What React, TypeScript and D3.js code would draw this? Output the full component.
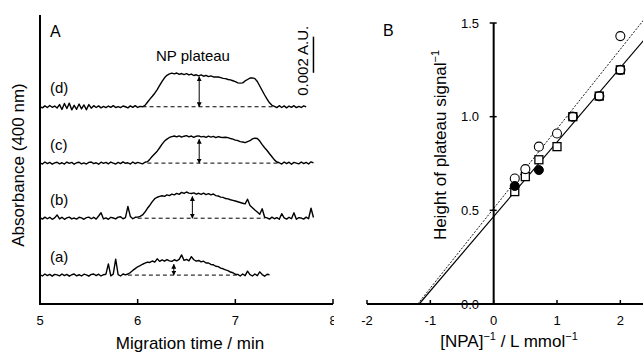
import React from "react";
import * as d3 from "d3";

const W = 643;
const H = 352;
const FONT = "'Liberation Sans', Arial, Helvetica, sans-serif";

// ---- Panel A: electropherograms (absorbance above each baseline, mAU) ----
const timeStart = 5.0;
const timeStep = 0.025;
const timeTicks = [5, 6, 7, 8];
const traceLabels = ["(a)", "(b)", "(c)", "(d)"];
const traceOffsets = [1.6, 4.75, 7.8, 10.92];

const traceA = [
  0.02, -0.05, 0.06, -0.03, 0.04, -0.06, 0.04, 0.01, -0.04, 0.06, -0.03, 0.04,
  -0.06, 0.02, 0.06, -0.04, 0.02, -0.05, 0.05, 0.01, -0.06, 0.04, 0.06, -0.03,
  0.05, -0.05, 0.02, 0.05, 0.62, -0.04, 0.05, 0.88, 0.02, -0.05, 0.06, 0.01,
  0.06, 0.14, 0.26, 0.36, 0.46, 0.52, 0.6, 0.66, 0.72, 0.7, 0.78, 0.72, 0.9,
  0.76, 0.84, 0.77, 0.86, 0.79, 0.76, 0.85, 0.79, 0.87, 1.12, 0.81, 0.87, 0.79,
  1.02, 0.85, 0.77, 0.81, 0.73, 0.77, 0.67, 0.67, 0.59, 0.57, 0.49, 0.47, 0.39,
  0.35, 0.29, 0.25, 0.17, 0.13, 0.05, 0.04, -0.05, 0.06, -0.03, 0.22, 0.03,
  -0.05, 0.06, -0.03, 0.18, 0.03, -0.06, 0.05, 0.02,
];

const traceB = [
  0.03, -0.05, 0.06, -0.03, 0.05, -0.06, 0.02, 0.18, -0.04, 0.05, -0.06, 0.02,
  0.06, -0.04, 0.01, -0.05, 0.05, 0.02, -0.06, 0.03, 0.06, -0.03, 0.05, -0.05,
  0.12, 0.3, -0.04, 0.02, -0.06, 0.05, 0.01, -0.04, 0.06, 0.08, -0.03, 0.03,
  0.65, 0.1, -0.03, 0.05, 0.06, 0.1, 0.18, 0.34, 0.55, 0.72, 0.92, 1.08, 1.16,
  1.21, 1.24, 1.21, 1.29, 1.25, 1.33, 1.29, 1.37, 1.32, 1.43, 1.37, 1.45, 1.39,
  1.37, 1.4, 1.33, 1.38, 1.32, 1.39, 1.31, 1.36, 1.29, 1.34, 1.25, 1.23, 1.17,
  1.15, 1.09, 1.07, 1.02, 0.99, 0.95, 0.91, 0.87, 0.83, 0.79, 1.05, 0.7, 0.58,
  0.45, 0.34, 0.22, 0.52, 0.05, 0.02, -0.05, 0.06, -0.03, 0.03, -0.06, 0.25,
  0.02, -0.05, 0.05, -0.03, 0.3, -0.06, 0.03, 0.01, -0.05, 0.06, -0.03, 0.55,
  0.04,
];

const traceC = [
  0.02, -0.05, 0.06, -0.03, 0.04, -0.06, 0.01, 0.05, -0.04, 0.02, -0.05, 0.06,
  -0.01, 0.04, -0.06, 0.02, 0.05, -0.04, 0.01, -0.05, 0.04, 0.06, -0.03, 0.02,
  -0.06, 0.05, -0.01, 0.04, -0.04, 0.06, 0.0, -0.05, 0.04, -0.03, 0.07, -0.01,
  0.02, -0.05, 0.06, -0.03, 0.04, 0.0, -0.04, 0.05, 0.08, 0.22, 0.38, 0.52,
  0.66, 0.85, 1.05, 1.22, 1.33, 1.42, 1.47, 1.5, 1.45, 1.51, 1.44, 1.49, 1.52,
  1.45, 1.5, 1.43, 1.49, 1.51, 1.45, 1.48, 1.42, 1.49, 1.44, 1.48, 1.41, 1.47,
  1.43, 1.42, 1.43, 1.41, 1.36, 1.33, 1.27, 1.25, 1.19, 1.17, 1.13, 1.19, 1.24,
  1.34, 1.38, 1.36, 1.22, 1.02, 0.85, 0.7, 0.52, 0.35, 0.18, 0.06, 0.02,
  -0.05, 0.06, -0.03, 0.05, -0.06, 0.04, 0.0, -0.04, 0.06, -0.03, 0.04, -0.05,
  0.07, 0.01,
];

const traceD = [
  0.0, -0.06, 0.05, -0.04, 0.07, -0.03, 0.04, -0.07, 0.12, -0.15, 0.18, -0.1,
  0.2, -0.17, 0.08, -0.14, 0.15, -0.12, 0.1, -0.16, 0.12, -0.08, 0.06, -0.04,
  0.05, -0.06, 0.02, -0.05, 0.04, -0.03, 0.06, -0.04, 0.01, -0.05, 0.04, 0.0,
  -0.06, 0.05, -0.03, 0.06, -0.04, 0.02, 0.0, 0.08, 0.25, 0.42, 0.58, 0.75,
  0.95, 1.18, 1.4, 1.6, 1.74, 1.82, 1.86, 1.82, 1.87, 1.79, 1.84, 1.78, 1.83,
  1.76, 1.81, 1.73, 1.77, 1.71, 1.76, 1.69, 1.74, 1.67, 1.71, 1.65, 1.65, 1.65,
  1.61, 1.57, 1.56, 1.51, 1.49, 1.44, 1.39, 1.32, 1.31, 1.32, 1.43, 1.51, 1.59,
  1.6, 1.56, 1.4, 1.15, 0.9, 0.65, 0.42, 0.22, 0.08, 0.02, -0.05, 0.06, -0.04,
  0.05, -0.06, 0.04, -0.03, 0.06, -0.05, 0.02, -0.04, 0.05, -0.01,
];

const traces = [traceA, traceB, traceC, traceD];
const plateauStart = [5.9, 6.0, 6.1, 6.05];
const plateauEnd = [7.02, 7.3, 7.45, 7.4];
const arrowTimes = [6.37, 6.56, 6.63, 6.63];
const arrowHeights = [0.6, 1.2, 1.32, 1.66];
const scaleBarTime = 7.8;
const scaleBarBottom = 12.8;
const scaleBarSize = 2; // 0.002 A.U. in mAU

// ---- Panel B: double reciprocal plot ----
const invTicksX = [-2, -1, 0, 1, 2];
const invTicksY = [0, 0.5, 1.0, 1.5];
const circleX = [0.333, 0.5, 0.714, 1.0, 2.0];
const circleY = [0.67, 0.72, 0.84, 0.91, 1.43];
const squareX = [0.333, 0.5, 0.714, 1.0, 1.25, 1.667, 2.0];
const squareY = [0.6, 0.68, 0.77, 0.84, 1.0, 1.11, 1.25];
const ringX = [1.25, 1.667, 2.0];
const ringY = [1.0, 1.11, 1.25];
const filledX = [0.333, 0.714];
const filledY = [0.63, 0.715];
const fitSlopes = [0.397, 0.425]; // solid, dotted
const fitIntercepts = [0.467, 0.51];

export default function App() {
  const xA = d3.scaleLinear().domain([5, 8]).range([40, 333]);
  const yA = d3.scaleLinear().domain([0, 16]).range([304, 15]);
  const xB = d3.scaleLinear().domain([-2, 2.5]).range([367, 652]);
  const yB = d3.scaleLinear().domain([0, 1.5]).range([304, 23]);

  const tracePath = (vals: number[], off: number) =>
    d3
      .line<number>()
      .x((_, i) => xA(timeStart + i * timeStep))
      .y((v) => yA(off + v))(vals) || "";

  const sup = (s: string) => (
    <tspan dy={-7} fontSize={11}>
      {s}
    </tspan>
  );

  return (
    <svg
      width={W}
      height={H}
      style={{ position: "absolute", left: 0, top: 0, background: "#fff" }}
      fontFamily={FONT}
    >
      <defs>
        <marker
          id="ah"
          viewBox="0 0 10 10"
          refX={9}
          refY={5}
          markerWidth={5}
          markerHeight={5}
          markerUnits="userSpaceOnUse"
          orient="auto-start-reverse"
        >
          <path d="M0,0 L10,5 L0,10 Z" fill="#000" />
        </marker>
      </defs>

      {/* ---------- Panel A ---------- */}
      <g>
        {traces.map((vals, k) => (
          <g key={k}>
            <line
              x1={xA(plateauStart[k])}
              x2={xA(plateauEnd[k])}
              y1={yA(traceOffsets[k])}
              y2={yA(traceOffsets[k])}
              stroke="#000"
              strokeWidth={1}
              strokeDasharray="4 3"
            />
            <path
              d={tracePath(vals, traceOffsets[k])}
              fill="none"
              stroke="#000"
              strokeWidth={1.4}
              strokeLinejoin="round"
            />
            <line
              x1={xA(arrowTimes[k])}
              x2={xA(arrowTimes[k])}
              y1={yA(traceOffsets[k])}
              y2={yA(traceOffsets[k] + arrowHeights[k])}
              stroke="#000"
              strokeWidth={1}
              markerStart="url(#ah)"
              markerEnd="url(#ah)"
            />
            <text
              x={50}
              y={yA(traceOffsets[k] + 1.05)}
              fontSize={15}
              dominantBaseline="central"
            >
              {traceLabels[k]}
            </text>
          </g>
        ))}

        {/* scale bar */}
        <line
          x1={xA(scaleBarTime)}
          x2={xA(scaleBarTime)}
          y1={yA(scaleBarBottom)}
          y2={yA(scaleBarBottom + scaleBarSize)}
          stroke="#000"
          strokeWidth={1.5}
        />
        <text
          transform={`translate(${xA(scaleBarTime) - 11},${yA(scaleBarBottom + scaleBarSize / 2) + 6}) rotate(-90)`}
          textAnchor="middle"
          dominantBaseline="central"
          fontSize={15}
        >
          0.002 A.U.
        </text>

        <text x={193} y={55} fontSize={15} textAnchor="middle" dominantBaseline="central">
          NP plateau
        </text>
        <text x={50} y={31} fontSize={16} dominantBaseline="central">
          A
        </text>

        {/* axes */}
        <line x1={xA(5)} x2={xA(8)} y1={yA(0)} y2={yA(0)} stroke="#000" strokeWidth={2} />
        <line x1={xA(5)} x2={xA(5)} y1={yA(0) + 1} y2={yA(16)} stroke="#000" strokeWidth={2} />
        {timeTicks.map((t) => (
          <g key={t}>
            <line x1={xA(t)} x2={xA(t)} y1={yA(0)} y2={yA(0) - 5} stroke="#000" strokeWidth={1.5} />
            <text x={xA(t)} y={320} fontSize={13} textAnchor="middle" dominantBaseline="central">
              {t}
            </text>
          </g>
        ))}
        <text x={190} y={343} fontSize={17} textAnchor="middle" dominantBaseline="central">
          Migration time / min
        </text>
        <text
          transform="translate(18,165) rotate(-90)"
          fontSize={17}
          textAnchor="middle"
          dominantBaseline="central"
        >
          Absorbance (400 nm)
        </text>
      </g>

      {/* ---------- Panel B ---------- */}
      <g>
        <rect x={334} y={0} width={W - 334} height={H} fill="#fff" />

        {/* fit lines */}
        {fitSlopes.map((m, k) => {
          const x0 = -fitIntercepts[k] / m;
          return (
            <line
              key={k}
              x1={xB(x0)}
              y1={yB(0)}
              x2={xB(2.5)}
              y2={yB(fitIntercepts[k] + m * 2.5)}
              stroke="#000"
              strokeWidth={k === 0 ? 1.2 : 0.9}
              strokeDasharray={k === 0 ? undefined : "2 1.5"}
            />
          );
        })}

        {/* axes */}
        <line x1={xB(-2)} x2={W} y1={yB(0)} y2={yB(0)} stroke="#000" strokeWidth={2} />
        <line x1={xB(0)} x2={xB(0)} y1={yB(0)} y2={yB(1.5)} stroke="#000" strokeWidth={2} />
        {invTicksX.map((t) => (
          <g key={t}>
            <line x1={xB(t)} x2={xB(t)} y1={yB(0)} y2={yB(0) - 4} stroke="#000" strokeWidth={1.5} />
            <text x={xB(t)} y={320} fontSize={13} textAnchor="middle" dominantBaseline="central">
              {t}
            </text>
          </g>
        ))}
        {invTicksY.map((t) => (
          <g key={t}>
            <line x1={xB(0) - 4} x2={xB(0) + 3} y1={yB(t)} y2={yB(t)} stroke="#000" strokeWidth={1.5} />
            <text x={479} y={yB(t)} fontSize={13} textAnchor="end" dominantBaseline="central">
              {t.toFixed(1)}
            </text>
          </g>
        ))}

        {/* points */}
        {squareX.map((x, i) => (
          <rect
            key={"s" + i}
            x={xB(x) - 4}
            y={yB(squareY[i]) - 4}
            width={8}
            height={8}
            fill="#fff"
            stroke="#000"
            strokeWidth={1.3}
          />
        ))}
        {ringX.map((x, i) => (
          <circle key={"r" + i} cx={xB(x)} cy={yB(ringY[i])} r={4.5} fill="none" stroke="#000" strokeWidth={1.3} />
        ))}
        {circleX.map((x, i) => (
          <circle key={"c" + i} cx={xB(x)} cy={yB(circleY[i])} r={4.5} fill="#fff" stroke="#000" strokeWidth={1.1} />
        ))}
        {filledX.map((x, i) => (
          <circle key={"f" + i} cx={xB(x)} cy={yB(filledY[i])} r={4.5} fill="#000" stroke="#000" strokeWidth={1} />
        ))}

        <text x={383} y={30} fontSize={16} dominantBaseline="central">
          B
        </text>
        <text x={509} y={347} fontSize={17} textAnchor="middle">
          [NPA]{sup("−1")}
          <tspan dy={7}> / L mmol</tspan>
          {sup("−1")}
        </text>
        <text transform="translate(446,145) rotate(-90)" fontSize={17} textAnchor="middle">
          Height of plateau signal{sup("−1")}
        </text>
      </g>
    </svg>
  );
}
